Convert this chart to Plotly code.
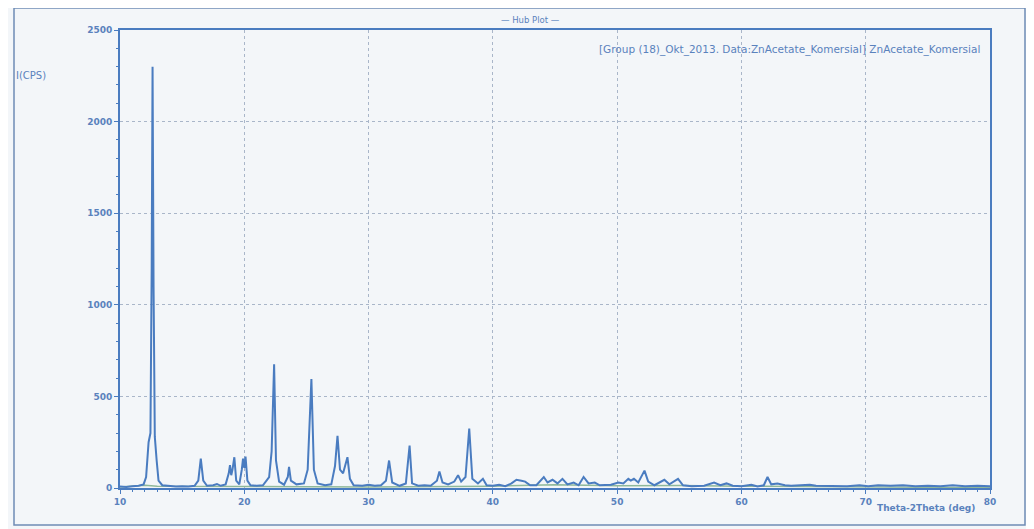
import plotly.graph_objects as go

# ---- data (2-Theta in deg, intensity in CPS) ----
two_theta = [
    10.0, 10.5, 11.0, 11.5, 11.9, 12.1, 12.3, 12.45, 12.55, 12.62, 12.7, 12.8, 12.95, 13.1, 13.4,
    14.0, 14.5, 15.0, 15.5, 16.0, 16.3, 16.5, 16.7, 17.0, 17.5, 17.8, 18.1, 18.5, 18.75, 18.85,
    18.95, 19.05, 19.2, 19.35, 19.6, 19.8, 19.9, 20.0, 20.1, 20.25, 20.5, 21.0, 21.5, 22.0, 22.2,
    22.4, 22.55, 22.8, 23.2, 23.5, 23.6, 23.75, 24.2, 24.8, 25.1, 25.4, 25.6, 25.9, 26.5, 27.0,
    27.3, 27.5, 27.7, 27.95, 28.3, 28.5, 28.8, 29.5, 30.0, 30.5, 31.0, 31.4, 31.65, 31.9, 32.5,
    33.0, 33.3, 33.5, 34.0, 34.5, 35.0, 35.5, 35.7, 35.95, 36.4, 36.9, 37.2, 37.45, 37.8, 38.1,
    38.35, 38.8, 39.2, 39.5, 40.0, 40.5, 41.0, 41.5, 41.9, 42.3, 42.6, 43.0, 43.5, 44.1, 44.4,
    44.8, 45.2, 45.6, 46.0, 46.5, 46.9, 47.3, 47.7, 48.2, 48.6, 49.5, 50.1, 50.5, 50.9, 51.1,
    51.35, 51.7, 52.2, 52.5, 53.0, 53.8, 54.2, 54.9, 55.3, 56.0, 57.0, 57.8, 58.3, 58.8, 59.3,
    60.0, 60.8, 61.3, 61.8, 62.1, 62.4, 62.9, 63.5, 64.0, 65.0, 65.5, 66.0, 67.0, 67.8, 68.5,
    69.5, 70.2, 71.0, 72.0, 73.0, 74.0, 75.0, 76.0, 77.0, 78.0, 79.0, 80.0,
]
intensity = [
    8, 6, 10, 12, 20, 60, 250, 300, 1200, 2300, 1100, 280, 150, 40, 15,
    10, 8, 10, 8, 12, 40, 160, 40, 12, 15, 22, 12, 20, 80, 125,
    70, 100, 168, 40, 20, 100, 160, 110, 172, 40, 15, 12, 15, 60, 200,
    675, 150, 35, 18, 60, 115, 40, 20, 25, 100, 595, 100, 25, 15, 20,
    120, 285, 100, 80, 168, 50, 15, 12, 18, 12, 15, 40, 150, 30, 12,
    25, 232, 25, 12, 15, 12, 40, 90, 30, 20, 35, 70, 35, 60, 325,
    50, 25, 50, 15, 12, 18, 10, 25, 45, 40, 35, 15, 15, 60, 30,
    45, 25, 50, 20, 30, 15, 60, 25, 30, 15, 18, 30, 25, 50, 40,
    50, 30, 95, 35, 15, 45, 20, 50, 15, 10, 12, 30, 15, 25, 12,
    10, 18, 8, 15, 60, 20, 25, 15, 12, 15, 18, 12, 10, 12, 10,
    15, 10, 15, 12, 15, 10, 12, 10, 15, 10, 12, 10,
]

bg_theta = [10, 11, 11.5, 12, 13, 20, 30, 40, 45, 50, 55, 60, 70, 80]
bg_intensity = [5, 8, 12, 15, 10, 8, 6, 10, 18, 12, 14, 10, 5, 2]

x_ticks = [10, 20, 30, 40, 50, 60, 70, 80]
y_ticks = [0, 500, 1000, 1500, 2000, 2500]

BLUE = "#4a7cc0"
TXT = "#5a82bd"
GRID = "#a9b6c9"
BG = "#f3f6f9"

fig = go.Figure()
fig.add_trace(go.Scatter(x=bg_theta, y=bg_intensity, mode="lines",
                         line=dict(color="#8fb89a", width=1.5), hoverinfo="skip"))
fig.add_trace(go.Scatter(x=two_theta, y=intensity, mode="lines",
                         line=dict(color=BLUE, width=2)))

axis_common = dict(
    showline=True, linecolor=BLUE, linewidth=2, mirror=True,
    ticks="outside", ticklen=4, tickcolor=BLUE,
    tickfont=dict(family="DejaVu Sans", size=9, color=TXT, weight="bold"),
    showgrid=True, gridcolor=GRID, griddash="dot", gridwidth=1,
    zeroline=False,
)

# plot area on screen: x 120..990 px, y 30..488 px (page has 8 px body margin)
fig.update_layout(
    width=1034, height=529,
    margin=dict(l=112, r=52, t=22, b=49),
    paper_bgcolor=BG, plot_bgcolor=BG,
    showlegend=False,
    xaxis=dict(range=[10, 80], tickvals=x_ticks,
               minor=dict(dtick=1, ticks="outside", ticklen=2, tickcolor=BLUE, showgrid=False),
               **axis_common),
    yaxis=dict(range=[0, 2500], tickvals=y_ticks,
               minor=dict(dtick=100, ticks="outside", ticklen=2, tickcolor=BLUE, showgrid=False),
               **axis_common),
)

def px_x(p):
    return (p - 120) / 870

def px_y(p):
    return (488 - p) / 458

fig.add_annotation(text="— Hub Plot —", xref="paper", yref="paper",
                   x=px_x(530), y=px_y(13), showarrow=False,
                   font=dict(family="DejaVu Sans", size=8.5, color=TXT))
fig.add_annotation(text="[Group (18)_Okt_2013. Data:ZnAcetate_Komersial] ZnAcetate_Komersial",
                   xref="paper", yref="paper", x=px_x(982), y=px_y(41),
                   xanchor="right", showarrow=False,
                   font=dict(family="DejaVu Sans", size=10.5, color=TXT))
fig.add_annotation(text="I(CPS)", xref="paper", yref="paper",
                   x=px_x(14), y=px_y(68), xanchor="left", showarrow=False,
                   font=dict(family="DejaVu Sans", size=10, color=TXT))
fig.add_annotation(text="Theta-2Theta (deg)", xref="paper", yref="paper",
                   x=px_x(977), y=px_y(515), xanchor="right", showarrow=False,
                   font=dict(family="DejaVu Sans", size=9, color=TXT, weight="bold"))

fig.add_shape(type="rect", xref="paper", yref="paper",
              x0=px_x(14), x1=px_x(1025), y0=px_y(525), y1=px_y(8),
              line=dict(color="#6f8cb5", width=1.5))

fig.write_html("out.html")
